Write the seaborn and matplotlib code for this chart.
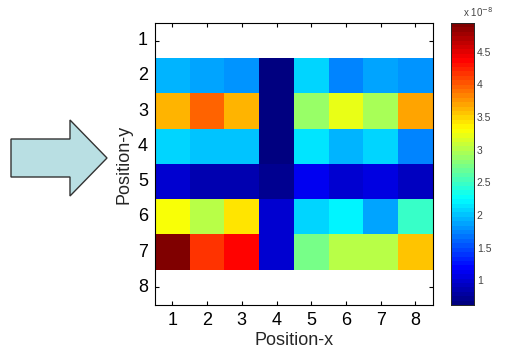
import numpy as np
import pandas as pd
import matplotlib
matplotlib.use('Agg')
import matplotlib.pyplot as plt
from matplotlib.patches import Polygon
from matplotlib.colors import LinearSegmentedColormap
import seaborn as sns

# values in units of 1e-8, rows y=1..8, cols x=1..8 (rows 1 and 8 empty)
pos_x = [1, 2, 3, 4, 5, 6, 7, 8]
pos_y = [1, 2, 3, 4, 5, 6, 7, 8]
nan = np.nan
row1 = [nan] * 8
row2 = [1.96, 1.87, 1.83, 0.62, 2.05, 1.70, 1.87, 1.83]
row3 = [3.60, 3.95, 3.64, 0.62, 2.91, 3.21, 2.95, 3.69]
row4 = [2.05, 2.00, 2.00, 0.63, 2.15, 1.92, 2.07, 1.74]
row5 = [0.97, 0.88, 0.88, 0.70, 1.10, 0.97, 1.05, 0.92]
row6 = [3.32, 3.04, 3.43, 1.01, 2.07, 2.18, 1.87, 2.45]
row7 = [4.94, 4.18, 4.36, 1.01, 2.72, 3.00, 3.00, 3.56]
row8 = [nan] * 8
cbar_ticks = [1, 1.5, 2, 2.5, 3, 3.5, 4, 4.5]

df = pd.DataFrame([row1, row2, row3, row4, row5, row6, row7, row8],
                  index=pos_y, columns=pos_x)

# matlab style jet
mjet = LinearSegmentedColormap('mjet', {
    'red':   [(0, 0, 0), (3/8, 0, 0), (5/8, 1, 1), (7/8, 1, 1), (1, 0.5, 0.5)],
    'green': [(0, 0, 0), (1/8, 0, 0), (3/8, 1, 1), (5/8, 1, 1), (7/8, 0, 0), (1, 0, 0)],
    'blue':  [(0, 0.5, 0.5), (1/8, 1, 1), (3/8, 1, 1), (5/8, 0, 0), (1, 0, 0)],
}, N=64)

sns.set_style('white')
plt.rcParams['font.family'] = ['Liberation Sans', 'DejaVu Sans']

fig = plt.figure(figsize=(5.08, 3.58), dpi=100)
ax = fig.add_axes([0.305, 0.148, 0.547, 0.788])
cax = fig.add_axes([0.888, 0.148, 0.045, 0.788])

sns.heatmap(df, ax=ax, cmap=mjet, vmin=0.62, vmax=4.94, cbar_ax=cax,
            cbar_kws={'ticks': cbar_ticks})

for s in ax.spines.values():
    s.set_visible(True)
    s.set_color('black')
    s.set_linewidth(0.8)
ax.tick_params(direction='in', length=3, labelsize=13, top=True, right=True,
               bottom=True, left=True, colors='black', pad=5)
ax.set_yticklabels(pos_y, rotation=0)
ax.set_xticklabels(pos_x, rotation=0)
ax.set_xlabel('Position-x', fontsize=13, labelpad=2)
ax.set_ylabel('Position-y', fontsize=13, labelpad=4)

cax.tick_params(direction='in', length=2.5, labelsize=7.5, left=True, right=True,
                labelcolor='#444444', pad=2)
cax.set_yticklabels(['1', '1.5', '2', '2.5', '3', '3.5', '4', '4.5'])
for s in cax.spines.values():
    s.set_visible(True)
    s.set_linewidth(0.6)
cax.text(0.5, 1.015, r'x 10$^{-8}$', transform=cax.transAxes, ha='left',
         va='bottom', fontsize=7, color='#444444')

# arrow on the left
W, H = 508, 358
pts = [(11, 139), (70, 139), (70, 120), (107, 158), (70, 196), (70, 177), (11, 177)]
arrow = Polygon([(x / W, 1 - y / H) for x, y in pts], closed=True,
                transform=fig.transFigure, facecolor='#b9dfe3',
                edgecolor='#333333', linewidth=1)
fig.patches.append(arrow)

fig.savefig('out.png', dpi=100)
